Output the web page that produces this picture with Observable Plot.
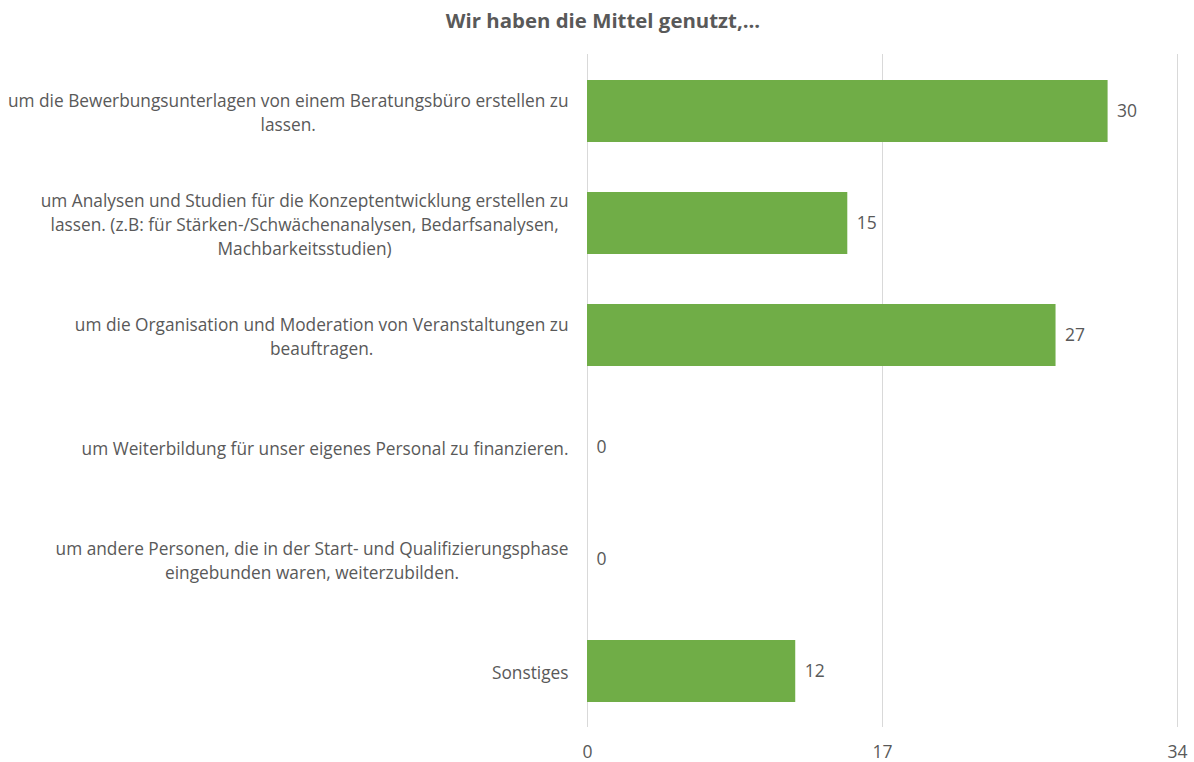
<!DOCTYPE html>
<html>
<head>
<meta charset="utf-8">
<script src="https://cdn.jsdelivr.net/npm/d3@7"></script>
<script src="https://cdn.jsdelivr.net/npm/@observablehq/plot@0.6"></script>
<style>
  html, body { margin: 0; padding: 0; background: #fff; }
  #title { height: 40px; line-height: 40px; text-align: center; font-family: "Open Sans", sans-serif; font-weight: bold; font-size: 20.4px; color: #595959; width: 1194px; padding-left: 12px; box-sizing: border-box; }
  #chart svg { display: block; }
</style>
</head>
<body>
<div id="title">Wir haben die Mittel genutzt,...</div>
<div id="chart"></div>
<script>
const categories = [
  "um die Bewerbungsunterlagen von einem Beratungsbüro erstellen zu\nlassen.",
  "um Analysen und Studien für die Konzeptentwicklung erstellen zu\nlassen. (z.B: für Stärken-/Schwächenanalysen, Bedarfsanalysen,\nMachbarkeitsstudien)",
  "um die Organisation und Moderation von Veranstaltungen zu\nbeauftragen.",
  "um Weiterbildung für unser eigenes Personal zu finanzieren.",
  "um andere Personen, die in der Start- und Qualifizierungsphase\neingebunden waren, weiterzubilden.",
  "Sonstiges"
];
const values = [30, 15, 27, 0, 0, 12];
const xTicks = [0, 17, 34];

const data = categories.map((c, i) => ({category: c, value: values[i]}));
const font = "'Open Sans', sans-serif";

const chart = Plot.plot({
  width: 1194,
  height: 722,
  marginTop: 14,
  marginBottom: 35,
  marginLeft: 587,
  marginRight: 17,
  style: {fontFamily: font, fontSize: "17px", color: "#595959", background: "#fff"},
  x: {domain: [0, 34]},
  y: {domain: categories, paddingInner: 0.45, paddingOuter: 0.225, axis: null},
  marks: [
    Plot.gridX(xTicks, {stroke: "#d9d9d9", strokeOpacity: 1, strokeWidth: 1}),
    Plot.axisX(xTicks, {tickSize: 0, tickPadding: 18, fontSize: 17.5, fill: "#595959", label: null}),
    Plot.barX(data, {x: "value", y: "category", fill: "#70AD47"}),
    Plot.text(data, {x: "value", y: "category", text: d => String(d.value), textAnchor: "start", dx: 9, fill: "#595959", fontSize: 17.5}),
    Plot.text(data, {y: "category", text: "category", frameAnchor: "left", textAnchor: "middle", dx: -19, lineHeight: 1.39, fill: "#595959", fontSize: 17.3})
  ]
});
document.getElementById("chart").appendChild(chart);
// center lines within each label block, with the block right-aligned
const flat = new Set(categories.map(c => c.replace(/\n/g, "")));
chart.querySelectorAll("text").forEach(t => {
  if (!flat.has(t.textContent)) return;
  const w = t.getBBox().width;
  const tr = t.getAttribute("transform") || "";
  t.setAttribute("transform", (tr + ` translate(${-w / 2},0)`).trim());
});
</script>
</body>
</html>
